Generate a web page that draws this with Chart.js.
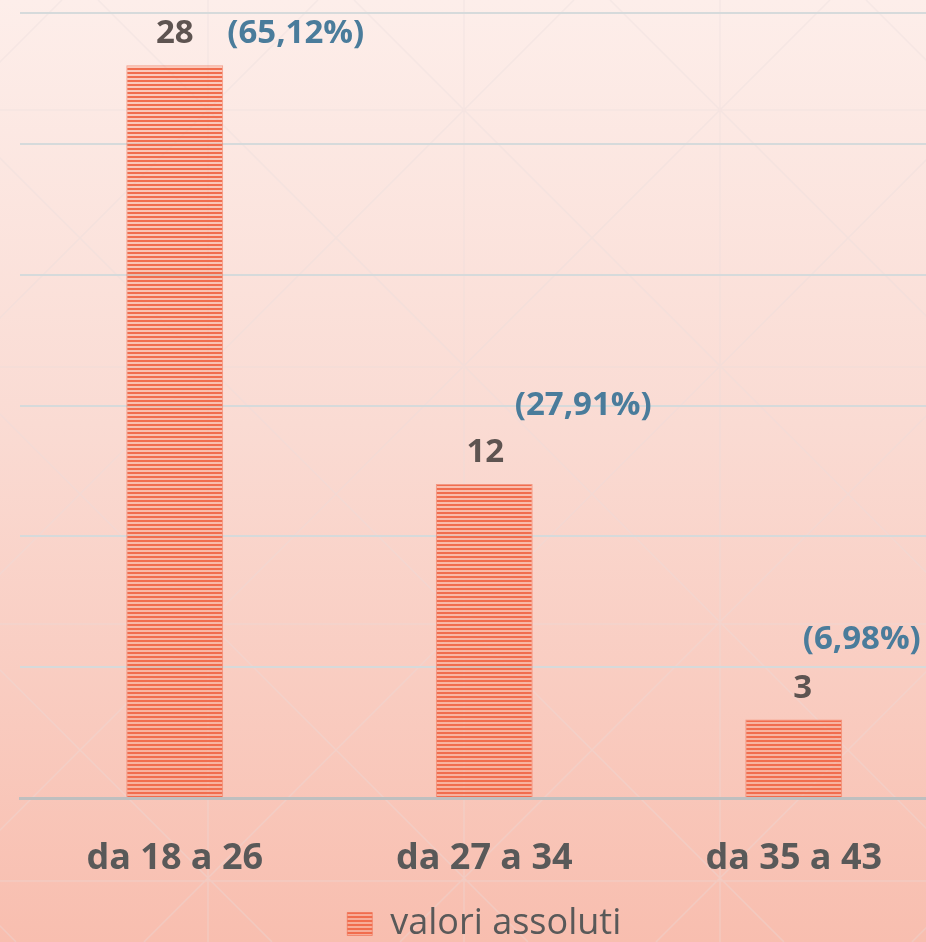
<!DOCTYPE html>
<html>
<head>
<meta charset="utf-8">
<script src="https://cdn.jsdelivr.net/npm/chart.js@4.4.1/dist/chart.umd.min.js"></script>
<style>
  html, body { margin: 0; padding: 0; overflow: hidden; background: #f8c0b2; }
  #chart { display: block; }
</style>
</head>
<body>
<canvas id="chart" width="960" height="942"></canvas>
<script>
// dati
const categorie = ['da 18 a 26', 'da 27 a 34', 'da 35 a 43'];
const valori = [28, 12, 3];
const percentuali = ['(65,12%)', '(27,91%)', '(6,98%)'];
const yMax = 30;
const yStep = 5;

// spostamenti delle etichette (come nel grafico originale)
const valoreDx = [0, 1, 9];
const percDx = [121, 99, 68];
const percDy = [-22, -69, -71];

// riempimento a righe orizzontali
function creaRighe() {
    const c = document.createElement('canvas');
    c.width = 8; c.height = 4;
    const g = c.getContext('2d');
    g.fillStyle = 'rgba(245,140,110,0.35)';
    g.fillRect(0, 0, 8, 4);
    g.fillStyle = 'rgb(241,109,78)';
    g.fillRect(0, 0, 8, 2);
    return g.createPattern(c, 'repeat');
}
const righe = creaRighe();

const sfondo = {
    id: 'sfondo',
    beforeDraw(chart) {
        const ctx = chart.ctx;
        const w = chart.width, h = chart.height;
        ctx.save();
        const grad = ctx.createLinearGradient(0, 0, 0, h);
        grad.addColorStop(0, '#fdeeea');
        grad.addColorStop(0.45, '#fadbd3');
        grad.addColorStop(1, '#f8beaf');
        ctx.fillStyle = grad;
        ctx.fillRect(0, 0, w, h);
        // trama leggera di fondo
        ctx.strokeStyle = 'rgba(232,222,220,0.35)';
        ctx.lineWidth = 1.5;
        ctx.beginPath();
        for (let x = -48; x < w + 300; x += 256) { ctx.moveTo(x, 0); ctx.lineTo(x, h); }
        for (let y = -147; y < h + 300; y += 257) { ctx.moveTo(0, y); ctx.lineTo(w, y); }
        for (let c = 98 - 256 * 5; c < w + h; c += 256) {
            ctx.moveTo(c, 0); ctx.lineTo(c + h, h);
        }
        for (let c = 318 - 256 * 2; c < w + h + 256; c += 256) {
            ctx.moveTo(c, 0); ctx.lineTo(c - h, h);
        }
        ctx.stroke();
        ctx.restore();
    }
};

const etichette = {
    id: 'etichette',
    afterDatasetsDraw(chart) {
        const ctx = chart.ctx;
        const meta = chart.getDatasetMeta(0);
        ctx.save();
        ctx.font = 'bold 33px "Open Sans"';
        ctx.textAlign = 'center';
        ctx.textBaseline = 'alphabetic';
        meta.data.forEach((bar, i) => {
            ctx.fillStyle = '#5e5451';
            ctx.fillText(String(valori[i]), bar.x + valoreDx[i], bar.y - 22);
            ctx.fillStyle = '#4a7c9b';
            ctx.fillText(percentuali[i], bar.x + percDx[i], bar.y + percDy[i]);
        });
        ctx.restore();
    }
};

const ctx = document.getElementById('chart').getContext('2d');
new Chart(ctx, {
    type: 'bar',
    data: {
        labels: categorie,
        datasets: [{
            label: 'valori assoluti',
            data: valori,
            backgroundColor: righe,
            borderColor: 'rgba(238,108,78,0.6)',
            borderWidth: 1,
            barPercentage: 0.313,
            categoryPercentage: 1
        }]
    },
    options: {
        responsive: false,
        animation: false,
        layout: { padding: { top: 13, left: 20, right: 11.5, bottom: -10 } },
        scales: {
            x: {
                grid: { display: false },
                border: { display: true, color: '#bfbfbf', width: 3 },
                ticks: {
                    color: '#595959',
                    padding: 31,
                    font: { family: 'Open Sans', size: 36, weight: 'bold' }
                },
                afterFit: (scale) => { scale.height = 76; }
            },
            y: {
                min: 0,
                max: yMax,
                ticks: { display: false, stepSize: yStep },
                border: { display: false },
                grid: {
                    drawTicks: false,
                    lineWidth: 2,
                    color: (c) => c.tick && c.tick.value === 0 ? 'rgba(0,0,0,0)' : '#d6dadb'
                }
            }
        },
        plugins: {
            legend: {
                position: 'bottom',
                labels: {
                    color: '#595959',
                    font: { family: 'Open Sans', size: 36 },
                    boxWidth: 25,
                    boxHeight: 23,
                    padding: 32
                }
            },
            tooltip: { enabled: false }
        }
    },
    plugins: [sfondo, etichette]
});
</script>
</body>
</html>
